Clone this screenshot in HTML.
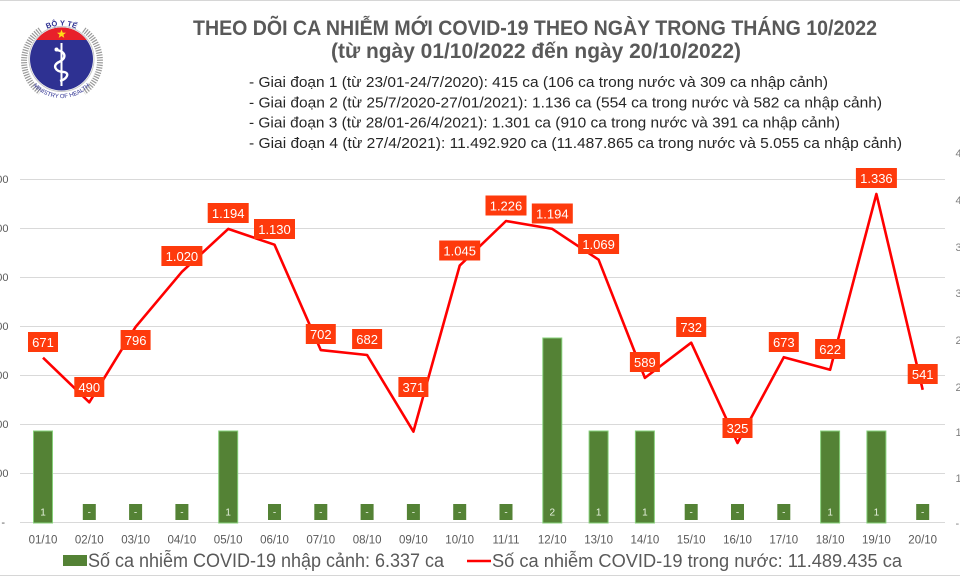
<!DOCTYPE html>
<html><head><meta charset="utf-8">
<style>html,body{margin:0;padding:0;background:#fff;}svg{display:block}</style>
</head>
<body>
<svg width="960" height="576" viewBox="0 0 960 576" xmlns="http://www.w3.org/2000/svg" font-family="'Liberation Sans', sans-serif">
<rect width="960" height="576" fill="#fff"/>
<line x1="0" y1="0.5" x2="960" y2="0.5" stroke="#d6d6d6"/>
<line x1="0" y1="575.5" x2="960" y2="575.5" stroke="#d6d6d6"/>

<!-- Logo -->
<g>
  <path d="M40.2 29.9 A38 38 0 0 0 40.2 92.1" fill="none" stroke="#9a9a9a" stroke-width="6" stroke-dasharray="1.2 1.3"/>
  <path d="M83.8 29.9 A38 38 0 0 1 83.8 92.1" fill="none" stroke="#9a9a9a" stroke-width="6" stroke-dasharray="1.2 1.3"/>
  <circle cx="61.5" cy="59" r="32.5" fill="#fff" stroke="#c8c8c8" stroke-width="1"/>
  <circle cx="61.5" cy="59" r="31.5" fill="#2e3192"/>
  <path d="M36.3 40 A31.5 31.5 0 0 1 86.7 40 Z" fill="#e8202a"/>
  <polygon points="61.5,29.5 62.7,32.6 66,32.7 63.4,34.7 64.3,37.9 61.5,36 58.7,37.9 59.6,34.7 57,32.7 60.3,32.6" fill="#ffde17"/>
  <line x1="61.5" y1="43" x2="61.5" y2="86" stroke="#fff" stroke-width="2"/>
  <path d="M57 50 C66 52,67 58,59 62 C52 65,55 72,64 72 C70 73,67 79,60 81" fill="none" stroke="#fff" stroke-width="2.4"/>
  <circle cx="56.5" cy="49.5" r="2" fill="#fff"/>
  <path id="topArc" d="M42.3 31.6 A33.5 33.5 0 0 1 80.7 31.6" fill="none"/>
  <text font-size="7.5" fill="#2e3192" font-weight="bold"><textPath href="#topArc" startOffset="50%" text-anchor="middle">BỘ Y TẾ</textPath></text>
  <path id="botArc" d="M27.7 78.5 A39 39 0 0 0 95.3 78.5" fill="none"/>
  <text font-size="6" fill="#2e3192"><textPath href="#botArc" startOffset="50%" text-anchor="middle">MINISTRY OF HEALTH</textPath></text>
</g>

<!-- Title -->
<text x="193" y="35" font-size="21" font-weight="bold" fill="#595959" textLength="684" lengthAdjust="spacingAndGlyphs">THEO DÕI CA NHIỄM MỚI COVID-19 THEO NGÀY TRONG THÁNG 10/2022</text>
<text x="331" y="58" font-size="21" font-weight="bold" fill="#595959" textLength="410" lengthAdjust="spacingAndGlyphs">(từ ngày 01/10/2022 đến ngày 20/10/2022)</text>

<g font-size="15" fill="#262626">
<text x="249" y="87" textLength="579" lengthAdjust="spacingAndGlyphs">- Giai đoạn 1 (từ 23/01-24/7/2020): 415 ca (106 ca trong nước và 309 ca nhập cảnh)</text>
<text x="249" y="107.5" textLength="633" lengthAdjust="spacingAndGlyphs">- Giai đoạn 2 (từ 25/7/2020-27/01/2021): 1.136 ca (554 ca trong nước và 582 ca nhập cảnh)</text>
<text x="249" y="127.5" textLength="591" lengthAdjust="spacingAndGlyphs">- Giai đoạn 3 (từ 28/01-26/4/2021): 1.301 ca (910 ca trong nước và 391 ca nhập cảnh)</text>
<text x="249" y="148" textLength="653" lengthAdjust="spacingAndGlyphs">- Giai đoạn 4 (từ 27/4/2021): 11.492.920 ca (11.487.865 ca trong nước và 5.055 ca nhập cảnh)</text>
</g>

<!-- Grid -->
<g stroke="#d9d9d9" stroke-width="1">
<line x1="20" y1="179.5" x2="945" y2="179.5"/>
<line x1="20" y1="228.5" x2="945" y2="228.5"/>
<line x1="20" y1="277.5" x2="945" y2="277.5"/>
<line x1="20" y1="326.5" x2="945" y2="326.5"/>
<line x1="20" y1="375.5" x2="945" y2="375.5"/>
<line x1="20" y1="424.5" x2="945" y2="424.5"/>
<line x1="20" y1="473.5" x2="945" y2="473.5"/>
<line x1="20" y1="522.5" x2="945" y2="522.5"/>
</g>

<!-- Left axis labels (clipped) -->
<g font-size="11" fill="#595959" text-anchor="end">
<text x="8.5" y="183">1.400</text>
<text x="8.5" y="232">1.200</text>
<text x="8.5" y="281">1.000</text>
<text x="8.5" y="330">800</text>
<text x="8.5" y="379">600</text>
<text x="8.5" y="428">400</text>
<text x="8.5" y="477">200</text>
<text x="5" y="526">-</text>
</g>
<!-- Right axis labels (clipped) -->
<g font-size="11" fill="#7f7f7f">
<text x="955.5" y="157">4,5</text>
<text x="955.5" y="204">4,0</text>
<text x="955.5" y="251">3,5</text>
<text x="955.5" y="297">3,0</text>
<text x="955.5" y="344">2,5</text>
<text x="955.5" y="391">2,0</text>
<text x="955.5" y="436">1,5</text>
<text x="955.5" y="482">1,0</text>
<text x="955.5" y="527">-</text>
</g>

<!-- Bars -->
<g fill="#548235">
<rect x="33.5" y="431" width="19" height="92" stroke="#86d07a" stroke-width="1"/>
<rect x="82.8" y="504" width="13" height="16"/>
<rect x="129.1" y="504" width="13" height="16"/>
<rect x="175.4" y="504" width="13" height="16"/>
<rect x="218.7" y="431" width="19" height="92" stroke="#86d07a" stroke-width="1"/>
<rect x="268" y="504" width="13" height="16"/>
<rect x="314.3" y="504" width="13" height="16"/>
<rect x="360.6" y="504" width="13" height="16"/>
<rect x="406.9" y="504" width="13" height="16"/>
<rect x="453.2" y="504" width="13" height="16"/>
<rect x="499.5" y="504" width="13" height="16"/>
<rect x="542.8" y="338" width="19" height="185" stroke="#86d07a" stroke-width="1"/>
<rect x="589.1" y="431" width="19" height="92" stroke="#86d07a" stroke-width="1"/>
<rect x="635.4" y="431" width="19" height="92" stroke="#86d07a" stroke-width="1"/>
<rect x="684.7" y="504" width="13" height="16"/>
<rect x="731" y="504" width="13" height="16"/>
<rect x="777.3" y="504" width="13" height="16"/>
<rect x="820.6" y="431" width="19" height="92" stroke="#86d07a" stroke-width="1"/>
<rect x="866.9" y="431" width="19" height="92" stroke="#86d07a" stroke-width="1"/>
<rect x="916.2" y="504" width="13" height="16"/>
</g>
<g font-size="10" fill="#e8f2e0" text-anchor="middle">
<text x="43" y="515.5">1</text>
<text x="89.3" y="515.5">-</text>
<text x="135.6" y="515.5">-</text>
<text x="181.9" y="515.5">-</text>
<text x="228.2" y="515.5">1</text>
<text x="274.5" y="515.5">-</text>
<text x="320.8" y="515.5">-</text>
<text x="367.1" y="515.5">-</text>
<text x="413.4" y="515.5">-</text>
<text x="459.7" y="515.5">-</text>
<text x="506" y="515.5">-</text>
<text x="552.3" y="515.5">2</text>
<text x="598.6" y="515.5">1</text>
<text x="644.9" y="515.5">1</text>
<text x="691.2" y="515.5">-</text>
<text x="737.5" y="515.5">-</text>
<text x="783.8" y="515.5">-</text>
<text x="830.1" y="515.5">1</text>
<text x="876.4" y="515.5">1</text>
<text x="922.7" y="515.5">-</text>
</g>

<!-- X labels -->
<g font-size="11.5" fill="#595959" text-anchor="middle">
<text x="43" y="543.5">01/10</text>
<text x="89.3" y="543.5">02/10</text>
<text x="135.6" y="543.5">03/10</text>
<text x="181.9" y="543.5">04/10</text>
<text x="228.2" y="543.5">05/10</text>
<text x="274.5" y="543.5">06/10</text>
<text x="320.8" y="543.5">07/10</text>
<text x="367.1" y="543.5">08/10</text>
<text x="413.4" y="543.5">09/10</text>
<text x="459.7" y="543.5">10/10</text>
<text x="506" y="543.5">11/11</text>
<text x="552.3" y="543.5">12/10</text>
<text x="598.6" y="543.5">13/10</text>
<text x="644.9" y="543.5">14/10</text>
<text x="691.2" y="543.5">15/10</text>
<text x="737.5" y="543.5">16/10</text>
<text x="783.8" y="543.5">17/10</text>
<text x="830.1" y="543.5">18/10</text>
<text x="876.4" y="543.5">19/10</text>
<text x="922.7" y="543.5">20/10</text>
</g>

<!-- Line -->
<polyline fill="none" stroke="#ff0000" stroke-width="2.6" stroke-linejoin="round"
 points="43,357.7 89.3,402.3 135.6,326.9 181.9,271.8 228.2,228.9 274.5,244.7 320.8,350.1 367.1,355 413.4,431.6 459.7,265.6 506,221 552.3,228.9 598.6,259.7 644.9,377.9 691.2,342.7 737.5,443 783.8,357.2 830.1,369.8 876.4,194 922.7,389.8"/>

<!-- Data labels -->
<g fill="#fe3a0c">
<rect x="28" y="332" width="30" height="20"/>
<rect x="74.3" y="377" width="30" height="20"/>
<rect x="120.6" y="330" width="30" height="20"/>
<rect x="161.4" y="246" width="41" height="20"/>
<rect x="207.7" y="203" width="41" height="20"/>
<rect x="254" y="219" width="41" height="20"/>
<rect x="305.8" y="324" width="30" height="20"/>
<rect x="352.1" y="329" width="30" height="20"/>
<rect x="398.4" y="377" width="30" height="20"/>
<rect x="439.2" y="240.5" width="41" height="20"/>
<rect x="485.5" y="195.5" width="41" height="20"/>
<rect x="531.8" y="203.5" width="41" height="20"/>
<rect x="578.1" y="234" width="41" height="20"/>
<rect x="629.9" y="352" width="30" height="20"/>
<rect x="676.2" y="317" width="30" height="20"/>
<rect x="722.5" y="418" width="30" height="20"/>
<rect x="768.8" y="332" width="30" height="20"/>
<rect x="815.1" y="339" width="30" height="20"/>
<rect x="855.9" y="168" width="41" height="20"/>
<rect x="907.7" y="364" width="30" height="20"/>
</g>
<g font-size="13" fill="#fff" text-anchor="middle">
<text x="43" y="347">671</text>
<text x="89.3" y="392">490</text>
<text x="135.6" y="345">796</text>
<text x="181.9" y="261">1.020</text>
<text x="228.2" y="218">1.194</text>
<text x="274.5" y="234">1.130</text>
<text x="320.8" y="339">702</text>
<text x="367.1" y="344">682</text>
<text x="413.4" y="392">371</text>
<text x="459.7" y="255.5">1.045</text>
<text x="506" y="210.5">1.226</text>
<text x="552.3" y="218.5">1.194</text>
<text x="598.6" y="249">1.069</text>
<text x="644.9" y="367">589</text>
<text x="691.2" y="332">732</text>
<text x="737.5" y="433">325</text>
<text x="783.8" y="347">673</text>
<text x="830.1" y="354">622</text>
<text x="876.4" y="183">1.336</text>
<text x="922.7" y="379">541</text>
</g>

<!-- Legend -->
<rect x="63" y="555" width="24" height="11" fill="#548235"/>
<text x="88" y="567" font-size="19" fill="#595959" textLength="356" lengthAdjust="spacingAndGlyphs">Số ca nhiễm COVID-19 nhập cảnh: 6.337 ca</text>
<line x1="467" y1="561" x2="491" y2="561" stroke="#ff0000" stroke-width="2.6"/>
<text x="492" y="567" font-size="18" fill="#595959" textLength="410" lengthAdjust="spacingAndGlyphs">Số ca nhiễm COVID-19 trong nước: 11.489.435 ca</text>
</svg>
</body></html>
